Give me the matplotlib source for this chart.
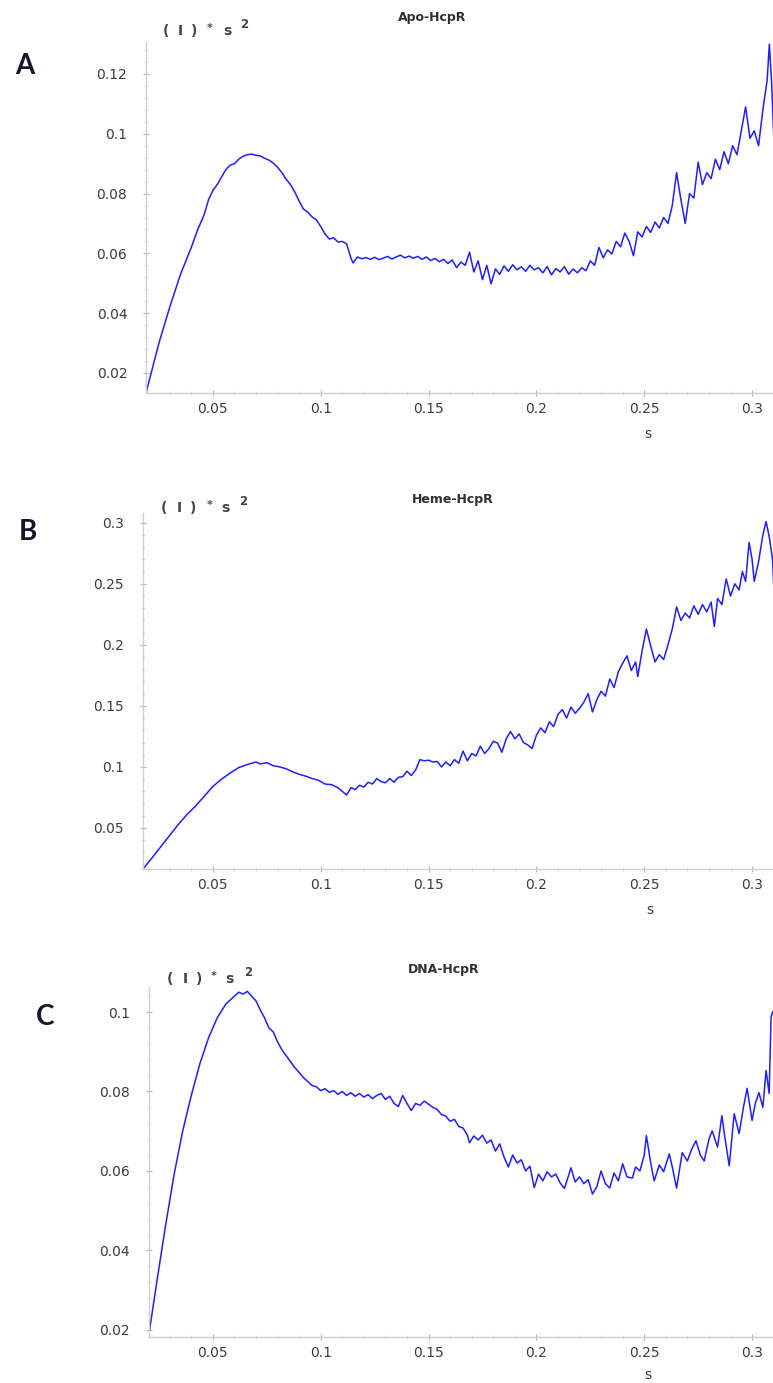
import matplotlib
matplotlib.use("Agg")
import matplotlib.pyplot as plt
from matplotlib.ticker import AutoMinorLocator

plt.rcParams['font.family'] = ['DejaVu Sans']

W, H = 773, 1383

# ---------------- data ----------------
apo_s = [0.0190, 0.0250, 0.0300, 0.0350, 0.0400, 0.0430, 0.0460, 0.0480, 0.0500, 0.0520,
         0.0540, 0.0560, 0.0580, 0.0600, 0.0620, 0.0640, 0.0660, 0.0680, 0.0700, 0.0720,
         0.0740, 0.0760, 0.0780, 0.0800, 0.0820, 0.0840, 0.0860, 0.0880, 0.0900, 0.0920,
         0.0940, 0.0960, 0.0980, 0.1000, 0.1020, 0.1040, 0.1060, 0.1080, 0.1100, 0.1120,
         0.1140, 0.1150, 0.1170, 0.1190, 0.1210, 0.1230, 0.1250, 0.1270, 0.1290, 0.1310,
         0.1330, 0.1350, 0.1370, 0.1390, 0.1410, 0.1430, 0.1450, 0.1470, 0.1490, 0.1510,
         0.1530, 0.1550, 0.1570, 0.1590, 0.1610, 0.1630, 0.1650, 0.1670, 0.1690, 0.1710,
         0.1730, 0.1750, 0.1770, 0.1790, 0.1810, 0.1830, 0.1850, 0.1870, 0.1890, 0.1910,
         0.1930, 0.1950, 0.1970, 0.1990, 0.2010, 0.2030, 0.2050, 0.2070, 0.2090, 0.2110,
         0.2130, 0.2150, 0.2170, 0.2190, 0.2210, 0.2230, 0.2250, 0.2270, 0.2290, 0.2310,
         0.2330, 0.2350, 0.2370, 0.2390, 0.2410, 0.2430, 0.2450, 0.2470, 0.2490, 0.2510,
         0.2530, 0.2550, 0.2570, 0.2590, 0.2610, 0.2630, 0.2650, 0.2670, 0.2690, 0.2710,
         0.2730, 0.2750, 0.2770, 0.2790, 0.2810, 0.2830, 0.2850, 0.2870, 0.2890, 0.2910,
         0.2930, 0.2950, 0.2970, 0.2990, 0.3010, 0.3030, 0.3050, 0.3070, 0.3080, 0.3090,
         0.3100]
apo_v = [0.0133, 0.0300, 0.0420, 0.0530, 0.0620, 0.0680, 0.0730, 0.0780, 0.0810, 0.0830,
         0.0855, 0.0880, 0.0895, 0.0900, 0.0915, 0.0925, 0.0930, 0.0932, 0.0928, 0.0926,
         0.0918, 0.0912, 0.0902, 0.0888, 0.0870, 0.0848, 0.0830, 0.0805, 0.0775, 0.0748,
         0.0738, 0.0722, 0.0712, 0.0690, 0.0665, 0.0648, 0.0652, 0.0638, 0.0640, 0.0632,
         0.0585, 0.0568, 0.0588, 0.0582, 0.0586, 0.0580, 0.0587, 0.0579, 0.0584, 0.0590,
         0.0581, 0.0588, 0.0594, 0.0585, 0.0591, 0.0584, 0.0590, 0.0580, 0.0588, 0.0576,
         0.0583, 0.0572, 0.0580, 0.0566, 0.0578, 0.0552, 0.0571, 0.0560, 0.0604, 0.0538,
         0.0575, 0.0512, 0.0560, 0.0498, 0.0548, 0.0530, 0.0558, 0.0540, 0.0562, 0.0545,
         0.0555, 0.0540, 0.0560, 0.0545, 0.0552, 0.0535, 0.0556, 0.0528, 0.0549, 0.0538,
         0.0556, 0.0530, 0.0548, 0.0535, 0.0552, 0.0542, 0.0575, 0.0560, 0.0620, 0.0585,
         0.0612, 0.0598, 0.0640, 0.0622, 0.0668, 0.0640, 0.0592, 0.0672, 0.0655, 0.0690,
         0.0670, 0.0705, 0.0685, 0.0720, 0.0700, 0.0760, 0.0870, 0.0780, 0.0700, 0.0800,
         0.0785, 0.0905, 0.0830, 0.0870, 0.0850, 0.0915, 0.0880, 0.0940, 0.0900, 0.0960,
         0.0930, 0.1010, 0.1090, 0.0985, 0.1010, 0.0960, 0.1080, 0.1180, 0.1300, 0.1180,
         0.1000]

heme_s = [0.0176, 0.0220, 0.0260, 0.0300, 0.0340, 0.0380, 0.0420, 0.0460, 0.0500, 0.0540,
          0.0580, 0.0620, 0.0660, 0.0700, 0.0720, 0.0750, 0.0780, 0.0810, 0.0840, 0.0870,
          0.0900, 0.0930, 0.0960, 0.0990, 0.1020, 0.1050, 0.1080, 0.1100, 0.1120, 0.1140,
          0.1160, 0.1180, 0.1200, 0.1220, 0.1240, 0.1260, 0.1280, 0.1300, 0.1320, 0.1340,
          0.1360, 0.1380, 0.1400, 0.1420, 0.1440, 0.1460, 0.1480, 0.1500, 0.1520, 0.1540,
          0.1560, 0.1580, 0.1600, 0.1620, 0.1640, 0.1660, 0.1680, 0.1700, 0.1720, 0.1740,
          0.1760, 0.1780, 0.1800, 0.1820, 0.1840, 0.1860, 0.1880, 0.1900, 0.1920, 0.1940,
          0.1960, 0.1980, 0.2000, 0.2020, 0.2040, 0.2060, 0.2080, 0.2100, 0.2120, 0.2140,
          0.2160, 0.2180, 0.2200, 0.2220, 0.2240, 0.2260, 0.2280, 0.2300, 0.2320, 0.2340,
          0.2360, 0.2380, 0.2400, 0.2420, 0.2440, 0.2460, 0.2470, 0.2490, 0.2510, 0.2530,
          0.2550, 0.2570, 0.2590, 0.2610, 0.2630, 0.2650, 0.2670, 0.2690, 0.2710, 0.2730,
          0.2750, 0.2770, 0.2790, 0.2810, 0.2825, 0.2840, 0.2860, 0.2880, 0.2900, 0.2920,
          0.2940, 0.2955, 0.2970, 0.2986, 0.3000, 0.3010, 0.3030, 0.3050, 0.3065, 0.3080,
          0.3095, 0.3100]
heme_v = [0.0164, 0.0260, 0.0350, 0.0440, 0.0530, 0.0610, 0.0680, 0.0760, 0.0840, 0.0900,
          0.0950, 0.0995, 0.1020, 0.1040, 0.1025, 0.1035, 0.1010, 0.1000, 0.0985, 0.0960,
          0.0940, 0.0925, 0.0905, 0.0890, 0.0860, 0.0855, 0.0830, 0.0800, 0.0770, 0.0830,
          0.0815, 0.0850, 0.0835, 0.0875, 0.0860, 0.0905, 0.0880, 0.0870, 0.0905, 0.0875,
          0.0915, 0.0920, 0.0965, 0.0930, 0.0975, 0.1060, 0.1050, 0.1055, 0.1040, 0.1045,
          0.1000, 0.1040, 0.1010, 0.1060, 0.1030, 0.1130, 0.1050, 0.1110, 0.1090, 0.1170,
          0.1110, 0.1150, 0.1210, 0.1195, 0.1120, 0.1230, 0.1290, 0.1230, 0.1270, 0.1200,
          0.1180, 0.1150, 0.1260, 0.1320, 0.1280, 0.1370, 0.1330, 0.1430, 0.1470, 0.1400,
          0.1490, 0.1440, 0.1480, 0.1530, 0.1600, 0.1450, 0.1550, 0.1620, 0.1580, 0.1720,
          0.1650, 0.1780, 0.1850, 0.1910, 0.1790, 0.1860, 0.1740, 0.1950, 0.2130, 0.1990,
          0.1860, 0.1920, 0.1880, 0.2000, 0.2130, 0.2310, 0.2200, 0.2260, 0.2220, 0.2320,
          0.2250, 0.2330, 0.2270, 0.2350, 0.2150, 0.2380, 0.2330, 0.2540, 0.2400, 0.2500,
          0.2450, 0.2600, 0.2520, 0.2840, 0.2700, 0.2520, 0.2680, 0.2900, 0.3010, 0.2880,
          0.2700, 0.2500]

dna_s = [0.0204, 0.0240, 0.0280, 0.0320, 0.0360, 0.0400, 0.0440, 0.0480, 0.0520, 0.0560,
         0.0600, 0.0620, 0.0640, 0.0660, 0.0680, 0.0700, 0.0720, 0.0740, 0.0760, 0.0780,
         0.0800, 0.0820, 0.0840, 0.0860, 0.0880, 0.0900, 0.0920, 0.0940, 0.0960, 0.0980,
         0.1000, 0.1020, 0.1040, 0.1060, 0.1080, 0.1100, 0.1120, 0.1140, 0.1160, 0.1180,
         0.1200, 0.1220, 0.1240, 0.1260, 0.1280, 0.1300, 0.1320, 0.1340, 0.1360, 0.1380,
         0.1400, 0.1420, 0.1440, 0.1460, 0.1480, 0.1500, 0.1520, 0.1540, 0.1560, 0.1580,
         0.1600, 0.1620, 0.1640, 0.1660, 0.1680, 0.1690, 0.1710, 0.1730, 0.1750, 0.1770,
         0.1790, 0.1810, 0.1830, 0.1850, 0.1870, 0.1890, 0.1910, 0.1930, 0.1950, 0.1970,
         0.1990, 0.2010, 0.2030, 0.2050, 0.2070, 0.2090, 0.2110, 0.2130, 0.2150, 0.2160,
         0.2180, 0.2200, 0.2220, 0.2240, 0.2260, 0.2280, 0.2300, 0.2320, 0.2340, 0.2360,
         0.2380, 0.2400, 0.2420, 0.2445, 0.2460, 0.2480, 0.2500, 0.2510, 0.2530, 0.2546,
         0.2570, 0.2590, 0.2616, 0.2630, 0.2650, 0.2676, 0.2700, 0.2720, 0.2740, 0.2760,
         0.2778, 0.2800, 0.2815, 0.2840, 0.2860, 0.2875, 0.2894, 0.2917, 0.2940, 0.2960,
         0.2977, 0.3000, 0.3015, 0.3032, 0.3050, 0.3065, 0.3079, 0.3088, 0.3095]
dna_v = [0.0190, 0.0320, 0.0460, 0.0590, 0.0700, 0.0790, 0.0870, 0.0935, 0.0985, 0.1020,
         0.1040, 0.1050, 0.1045, 0.1052, 0.1040, 0.1028, 0.1005, 0.0985, 0.0960, 0.0950,
         0.0925, 0.0905, 0.0890, 0.0875, 0.0860, 0.0848, 0.0835, 0.0825, 0.0815, 0.0812,
         0.0802, 0.0807, 0.0798, 0.0802, 0.0793, 0.0800, 0.0790, 0.0797, 0.0788, 0.0795,
         0.0786, 0.0792, 0.0782, 0.0790, 0.0795, 0.0780, 0.0788, 0.0770, 0.0762, 0.0790,
         0.0770, 0.0752, 0.0770, 0.0765, 0.0776, 0.0768, 0.0760, 0.0755, 0.0742, 0.0738,
         0.0725, 0.0730, 0.0712, 0.0708, 0.0690, 0.0671, 0.0688, 0.0678, 0.0690, 0.0670,
         0.0678, 0.0650, 0.0668, 0.0635, 0.0610, 0.0640, 0.0620, 0.0628, 0.0600, 0.0612,
         0.0558, 0.0592, 0.0575, 0.0598, 0.0585, 0.0592, 0.0570, 0.0556, 0.0590, 0.0608,
         0.0572, 0.0585, 0.0568, 0.0578, 0.0542, 0.0560, 0.0600, 0.0568, 0.0557, 0.0595,
         0.0575, 0.0618, 0.0585, 0.0582, 0.0610, 0.0600, 0.0640, 0.0689, 0.0620, 0.0575,
         0.0615, 0.0598, 0.0643, 0.0610, 0.0557, 0.0646, 0.0625, 0.0655, 0.0676, 0.0640,
         0.0625, 0.0680, 0.0701, 0.0660, 0.0739, 0.0680, 0.0613, 0.0744, 0.0694, 0.0760,
         0.0808, 0.0727, 0.0770, 0.0797, 0.0760, 0.0853, 0.0795, 0.0987, 0.1000]

titles = ["Apo-HcpR", "Heme-HcpR", "DNA-HcpR"]
letters = ["A", "B", "C"]
xticks = [0.05, 0.1, 0.15, 0.2, 0.25, 0.3]
xticklabels = ["0.05", "0.1", "0.15", "0.2", "0.25", "0.3"]
yticks_list = [[0.02, 0.04, 0.06, 0.08, 0.1, 0.12],
               [0.05, 0.1, 0.15, 0.2, 0.25, 0.3],
               [0.02, 0.04, 0.06, 0.08, 0.1]]
yticklabels_list = [["0.02", "0.04", "0.06", "0.08", "0.1", "0.12"],
                    ["0.05", "0.1", "0.15", "0.2", "0.25", "0.3"],
                    ["0.02", "0.04", "0.06", "0.08", "0.1"]]
ylabel_chars = ["(", "I", ")", "*", "s"]

series = [(apo_s, apo_v), (heme_s, heme_v), (dna_s, dna_v)]

# ---------------- layout (pixel based) ----------------
boxes = [(146, 42, 393), (143, 513, 869), (149, 987, 1337)]
xlims = [(0.0190, 0.3097), (0.0176, 0.3097), (0.0204, 0.3097)]
ylims = [(0.0133, 0.1307), (0.0164, 0.3080), (0.0182, 0.1063)]
letter_pos = [(25, 66), (28, 532), (45, 1017)]
title_pos = [(432, 18), (453, 500), (444, 970)]
ylab_x = [[166, 180, 194, 210, 227], [164, 179, 193, 210, 225], [170, 185, 199, 214, 229]]
ylab_y = [31, 508, 979]
sup_pos = [(244, 25), (243, 502), (248, 972)]
xlab_pos = [(648, 434), (650, 910), (648, 1375)]

fig = plt.figure(figsize=(W / 100, H / 100), dpi=100)
fig.patch.set_facecolor('white')

spine_col = '#cfcfcf'
text_col = '#3c3c3c'

for i in range(3):
    l, t, b = boxes[i]
    ax = fig.add_axes([l / W, 1 - b / H, (W - l) / W, (b - t) / H])
    s, v = series[i]
    ax.plot(s, v, color='#1f1fff', lw=1.1)
    ax.set_xlim(*xlims[i])
    ax.set_ylim(*ylims[i])
    for side in ['top', 'right']:
        ax.spines[side].set_visible(False)
    for side in ['left', 'bottom']:
        ax.spines[side].set_color(spine_col)
        ax.spines[side].set_linewidth(1.0)
    ax.set_xticks(xticks)
    ax.set_xticklabels(xticklabels)
    ax.set_yticks(yticks_list[i])
    ax.set_yticklabels(yticklabels_list[i])
    ax.xaxis.set_minor_locator(AutoMinorLocator(5))
    ax.yaxis.set_minor_locator(AutoMinorLocator(5))
    ax.tick_params(which='major', direction='inout', length=5, width=0.8,
                   color='#b4b4b4', labelcolor=text_col, labelsize=10)
    ax.tick_params(which='minor', direction='inout', length=3, width=0.6,
                   color='#d4d4d4')
    ax.tick_params(axis='x', which='major', pad=4)
    ax.tick_params(axis='y', which='major', pad=11)
    ax.set_facecolor('white')

    lx, ly = letter_pos[i]
    fig.text(lx / W, 1 - ly / H, letters[i], fontsize=20, fontweight='bold',
             color='#16162a', ha='center', va='center', family=['Lato', 'DejaVu Sans'])
    tx, ty = title_pos[i]
    fig.text(tx / W, 1 - ty / H, titles[i], fontsize=9, fontweight='bold',
             color='#303030', ha='center', va='center')
    for ch, cx in zip(ylabel_chars, ylab_x[i]):
        fs = 10 if ch != "*" else 8
        yoff = 0 if ch != "*" else -3
        fig.text(cx / W, 1 - (ylab_y[i] + yoff) / H, ch, fontsize=fs, color='#444444',
                 fontweight='bold', ha='center', va='center')
    sx2, sy2 = sup_pos[i]
    fig.text(sx2 / W, 1 - sy2 / H, "2", fontsize=8.5, color='#444444',
             fontweight='bold', ha='center', va='center')
    sx, sy = xlab_pos[i]
    fig.text(sx / W, 1 - sy / H, "s", fontsize=10, color=text_col,
             ha='center', va='center')

fig.savefig("out.png", dpi=100, facecolor='white')
